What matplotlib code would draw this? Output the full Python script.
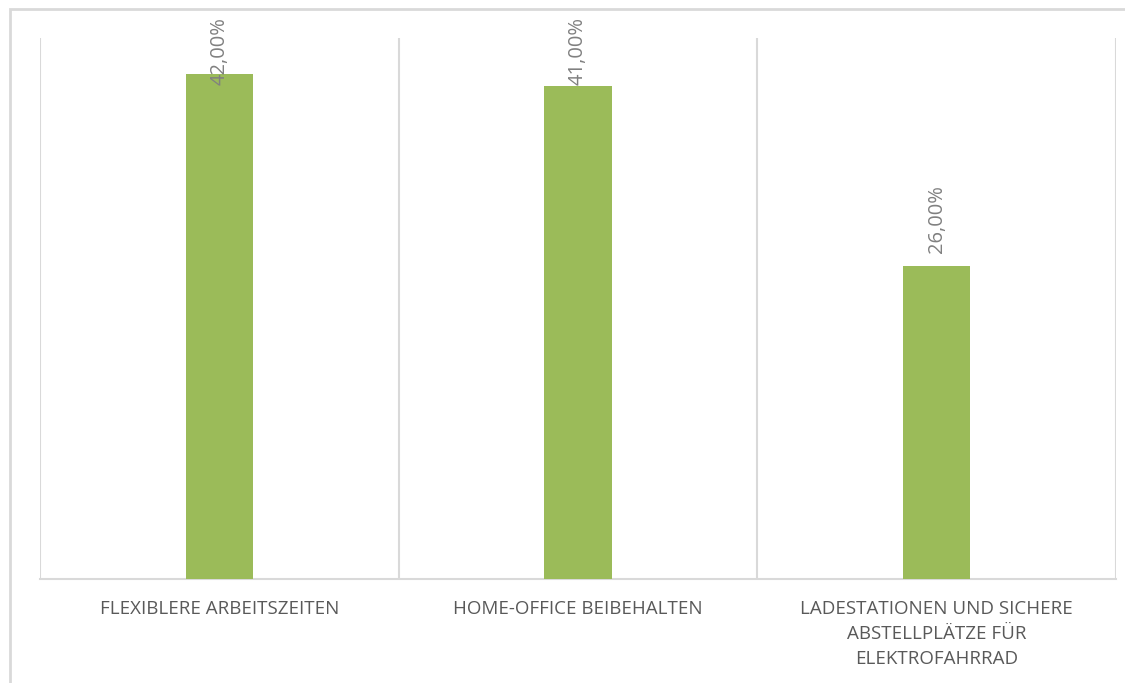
import matplotlib.pyplot as plt
import matplotlib.patches as mpatches
import numpy as np

# Wünsche der Mitarbeitenden (Anteil in %)
categories = ["FLEXIBLERE ARBEITSZEITEN",
              "HOME-OFFICE BEIBEHALTEN",
              "LADESTATIONEN UND SICHERE\nABSTELLPLÄTZE FÜR\nELEKTROFAHRRAD"]
values = [42.0, 41.0, 26.0]
value_labels = ["42,00%", "41,00%", "26,00%"]

plt.rcParams['font.family'] = ['Open Sans', 'DejaVu Sans']

W, H = 1125, 683
fig = plt.figure(figsize=(W / 100, H / 100), dpi=100)
# light frame around the chart area (Excel style)
fig.patches.append(mpatches.Rectangle((10 / W, -0.05), 1.2, 1 - 9 / H + 0.05,
                                      transform=fig.transFigure, fill=False,
                                      edgecolor='#d9d9d9', linewidth=2))

ax = fig.add_axes([40 / W, 1 - 579 / H, (1116 - 40) / W, (579 - 38) / H])

x = np.arange(len(categories))
ax.bar(x, values, width=0.187, color='#9bbb59', zorder=3)

ax.set_xlim(-0.5, len(categories) - 0.5)
ax.set_ylim(0, 45)

# data labels: above the bar, but pushed down when they would leave the chart
label_len = 65      # px, rotated label length
gap = 16            # px between bar and label
top_limit = H - 17  # px from bottom
for xi, v, lab in zip(x, values, value_labels):
    px, py = ax.transData.transform((xi, v))
    y_top = min(py + gap + label_len, top_limit)
    fig.text(px / W, y_top / H, lab, rotation=90, ha='center', va='top',
             color='#808080', fontsize=14.5, zorder=4)

# vertical gridlines between categories
for b in np.arange(-0.5, len(categories), 1.0):
    ax.axvline(b, color='#d9d9d9', linewidth=1.5, zorder=1)

for s in ['top', 'right', 'left']:
    ax.spines[s].set_visible(False)
ax.spines['bottom'].set_color('#d9d9d9')
ax.spines['bottom'].set_linewidth(1.5)

ax.set_yticks([])
ax.set_xticks(x)
ax.set_xticklabels(categories)
ax.tick_params(axis='x', length=0, pad=15)
for t in ax.get_xticklabels():
    t.set_color('#595959')
    t.set_fontsize(13.5)
    t.set_linespacing(1.5)
    t.set_va('top')

fig.savefig('out.png', dpi=100)
